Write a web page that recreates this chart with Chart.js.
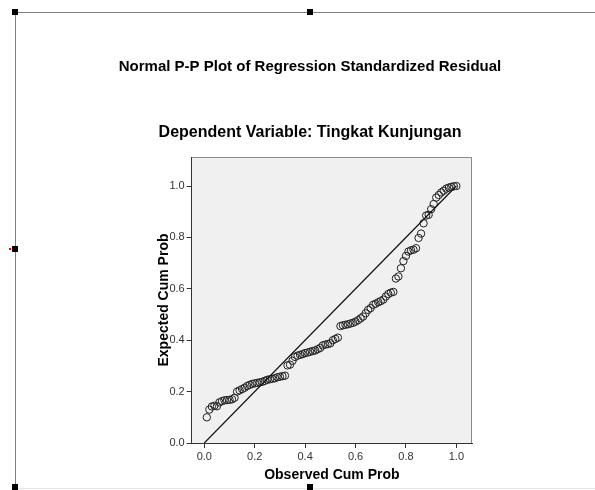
<!DOCTYPE html>
<html>
<head>
<meta charset="utf-8">
<script src="https://cdn.jsdelivr.net/npm/chart.js@4"></script>
<style>
  body { margin: 0; background: #fff; }
  canvas { display: block; }
</style>
</head>
<body>
<canvas id="ppChart" width="595" height="490"></canvas>
<script>
// Observed cumulative probability (x) for each case
const observed = [
  0.01, 0.02, 0.03, 0.04, 0.05, 0.06, 0.07, 0.08, 0.09, 0.10,
  0.11, 0.12, 0.13, 0.14, 0.15, 0.16, 0.17, 0.18, 0.19, 0.20,
  0.21, 0.22, 0.23, 0.24, 0.25, 0.26, 0.27, 0.28, 0.29, 0.30,
  0.31, 0.32, 0.33, 0.34, 0.35, 0.36, 0.37, 0.38, 0.39, 0.40,
  0.41, 0.42, 0.43, 0.44, 0.45, 0.46, 0.47, 0.48, 0.49, 0.50,
  0.51, 0.52, 0.53, 0.54, 0.55, 0.56, 0.57, 0.58, 0.59, 0.60,
  0.61, 0.62, 0.63, 0.64, 0.65, 0.66, 0.67, 0.68, 0.69, 0.70,
  0.71, 0.72, 0.73, 0.74, 0.75, 0.76, 0.77, 0.78, 0.79, 0.80,
  0.81, 0.82, 0.83, 0.84, 0.85, 0.86, 0.87, 0.88, 0.89, 0.90,
  0.91, 0.92, 0.93, 0.94, 0.95, 0.96, 0.97, 0.98, 0.99, 1.00
];
// Expected cumulative probability (y)
const expected = [
  0.100, 0.130, 0.142, 0.145, 0.143, 0.158, 0.163, 0.166, 0.167, 0.168,
  0.170, 0.176, 0.200, 0.205, 0.210, 0.215, 0.222, 0.226, 0.230, 0.232,
  0.234, 0.236, 0.238, 0.242, 0.246, 0.248, 0.250, 0.252, 0.256, 0.258,
  0.260, 0.262, 0.302, 0.305, 0.320, 0.335, 0.340, 0.343, 0.346, 0.350,
  0.352, 0.355, 0.358, 0.360, 0.365, 0.370, 0.380, 0.383, 0.385, 0.388,
  0.400, 0.405, 0.410, 0.455, 0.458, 0.460, 0.462, 0.465, 0.468, 0.472,
  0.478, 0.485, 0.492, 0.505, 0.518, 0.525, 0.538, 0.542, 0.548, 0.552,
  0.558, 0.570, 0.580, 0.585, 0.588, 0.640, 0.648, 0.680, 0.708, 0.728,
  0.745, 0.750, 0.752, 0.758, 0.798, 0.815, 0.855, 0.885, 0.888, 0.910,
  0.930, 0.955, 0.965, 0.975, 0.982, 0.990, 0.994, 0.997, 0.999, 1.000
];
// Diagonal reference line
const refX = [0, 1];
const refY = [0, 1];

const tickColor = "#333";
const fontFamily = "Arial, 'Liberation Sans', sans-serif";
const tickFont = { family: fontFamily, size: 11 };
const axisTitleFont = { family: fontFamily, size: 14, weight: "bold", lineHeight: 1.2 };

const points = observed.map((v, i) => ({ x: v, y: expected[i] }));
const refLine = refX.map((v, i) => ({ x: v, y: refY[i] }));

// grey plot background and frame, plus the outer selection frame
const framePlugin = {
  id: "framePlugin",
  beforeDraw(chart) {
    const ctx = chart.ctx;
    const a = chart.chartArea;
    ctx.save();
    ctx.fillStyle = "#fff";
    ctx.fillRect(0, 0, chart.width, chart.height);
    // selection frame
    ctx.strokeStyle = "#808080";
    ctx.lineWidth = 1;
    ctx.beginPath();
    ctx.moveTo(15, 12.5);
    ctx.lineTo(595, 12.5);
    ctx.moveTo(15.5, 12);
    ctx.lineTo(15.5, 490);
    ctx.stroke();
    ctx.strokeStyle = "#e6e6e6";
    ctx.beginPath();
    ctx.moveTo(15, 488.5);
    ctx.lineTo(595, 488.5);
    ctx.stroke();
    // plot area
    ctx.fillStyle = "#f0f0f0";
    ctx.fillRect(a.left, a.top, a.right - a.left, a.bottom - a.top);
    ctx.strokeStyle = "#8a8a8a";
    ctx.beginPath();
    ctx.moveTo(a.left, a.top + 0.5);
    ctx.lineTo(a.right - 0.5, a.top + 0.5);
    ctx.lineTo(a.right - 0.5, a.bottom);
    ctx.stroke();
    ctx.restore();
  },
  afterDraw(chart) {
    const ctx = chart.ctx;
    ctx.save();
    ctx.fillStyle = "#000";
    [[15, 12], [310, 12], [15, 249], [15, 487], [310, 487]].forEach(([x, y]) => {
      ctx.fillRect(x - 3, y - 3, 6, 6);
    });
    ctx.fillStyle = "#e00";
    ctx.fillRect(9, 248, 2, 2);
    ctx.restore();
  }
};

new Chart(document.getElementById("ppChart"), {
  type: "scatter",
  data: {
    datasets: [
      {
        label: "Reference",
        data: refLine,
        type: "line",
        showLine: true,
        borderColor: "#111",
        borderWidth: 1.2,
        pointRadius: 0,
        fill: false,
      },
      {
        label: "Observed",
        data: points,
        pointRadius: 3.7,
        pointBorderWidth: 1,
        pointBorderColor: "#222",
        pointBackgroundColor: "rgba(0,0,0,0)",
      },
    ],
  },
  options: {
    responsive: false,
    animation: false,
    layout: { padding: { left: 105, right: 80, top: 0, bottom: 0 } },
    plugins: {
      legend: { display: false },
      tooltip: { enabled: false },
      title: {
        display: true,
        text: "Normal P-P Plot of Regression Standardized Residual",
        color: "#000",
        font: { family: fontFamily, size: 15, weight: "bold", lineHeight: 1.2 },
        padding: { top: 58, bottom: 0 },
      },
      subtitle: {
        display: true,
        text: "Dependent Variable: Tingkat Kunjungan",
        color: "#000",
        font: { family: fontFamily, size: 16, weight: "bold", lineHeight: 1.2 },
        padding: { top: 47.4, bottom: 14.4 },
      },
    },
    scales: {
      x: {
        type: "linear",
        min: -0.05,
        max: 1.062,
        afterFit(scale) { scale.height = 47; },
        border: { display: true, color: tickColor, width: 1 },
        grid: { drawOnChartArea: false, drawTicks: true, tickLength: 5, tickColor: tickColor },
        ticks: {
          stepSize: 0.2,
          includeBounds: false,
          color: tickColor,
          font: tickFont,
          padding: 2,
          maxRotation: 0,
          callback: (v) => v.toFixed(1),
        },
        title: {
          display: true,
          text: "Observed Cum Prob",
          color: "#000",
          font: axisTitleFont,
          padding: { top: 0, bottom: 6.6 },
        },
      },
      y: {
        type: "linear",
        min: 0,
        max: 1.113,
        afterFit(scale) { scale.width = 86.7; },
        border: { display: true, color: tickColor, width: 1 },
        grid: { drawOnChartArea: false, drawTicks: true, tickLength: 5, tickColor: tickColor },
        ticks: {
          stepSize: 0.2,
          includeBounds: false,
          color: tickColor,
          font: tickFont,
          padding: 2,
          callback: (v) => v.toFixed(1),
        },
        title: {
          display: true,
          text: "Expected Cum Prob",
          color: "#000",
          font: axisTitleFont,
          padding: { top: 50.6, bottom: 0 },
        },
      },
      // empty right-hand spacer so the titles can be centred over the page
      spacer: {
        type: "linear",
        position: "right",
        display: true,
        afterFit(scale) { scale.width = 43; },
        border: { display: false },
        grid: { display: false },
        ticks: { display: false },
      },
    },
  },
  plugins: [framePlugin],
});
</script>
</body>
</html>
